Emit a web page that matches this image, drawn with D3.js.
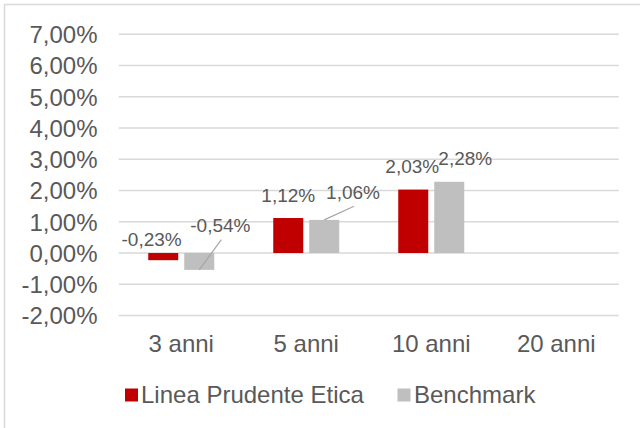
<!DOCTYPE html>
<html>
<head>
<meta charset="utf-8">
<script src="https://cdn.jsdelivr.net/npm/d3@7"></script>
<style>
  html, body { margin: 0; padding: 0; background: #fff; }
  svg { display: block; font-family: "Liberation Sans", Arial, sans-serif; }
</style>
</head>
<body>
<svg id="chart" width="640" height="428"></svg>
<script>
// ---- data ----
const categories = ["3 anni", "5 anni", "10 anni", "20 anni"];
const seriesNames = ["Linea Prudente Etica", "Benchmark"];
const lineaValues = [-0.23, 1.12, 2.03, null];
const benchmarkValues = [-0.54, 1.06, 2.28, null];
const yTicks = [-2, -1, 0, 1, 2, 3, 4, 5, 6, 7];

// ---- layout / style (not data) ----
const colors = ["#c00000", "#bfbfbf"];
const textColor = "#595959";
const gridColor = "#d9d9d9";
// label offsets [dx, dy] relative to (bar centre, value end), per series per category
const labelOffsets = [
  [[-11.6, -14.2], [0, -16.3], [-1, -16.3], [0, 0]],
  [[21.1, -37.6], [28.8, -20.9], [16, -16.8], [0, 0]]
];
const leaderLines = [
  [false, false, false, false],
  [true, true, false, false]
];

const fmt = v => d3.format(".2f")(v).replace("\u2212", "-").replace(".", ",") + "%";

const svg = d3.select("#chart");

// outer frame
svg.append("rect")
  .attr("x", 4.5).attr("y", 4.5)
  .attr("width", 660).attr("height", 440)
  .attr("fill", "none").attr("stroke", gridColor).attr("stroke-width", 1.5);

const x = d3.scaleBand().domain(categories).range([118.75, 618.75]);
const y = d3.scaleLinear().domain([-2, 7]).range([315.5, 34.3]);

// gridlines
svg.append("g").selectAll("line").data(yTicks).join("line")
  .attr("x1", x.range()[0]).attr("x2", x.range()[1])
  .attr("y1", d => y(d)).attr("y2", d => y(d))
  .attr("stroke", gridColor).attr("stroke-width", 1.5);

// y axis labels
const yAxis = d3.axisLeft(y).tickValues(yTicks).tickSize(0).tickPadding(0)
  .tickFormat(d => fmt(d));
const yg = svg.append("g").attr("transform", "translate(97.5,0)").call(yAxis);
yg.select(".domain").remove();
yg.selectAll("text")
  .attr("fill", textColor).attr("font-size", 24)
  .attr("font-family", '"Liberation Sans", Arial, sans-serif')
  .attr("dy", "0.35em");

// x axis labels
const xAxis = d3.axisBottom(x).tickSize(0).tickPadding(0);
const xg = svg.append("g").attr("transform", "translate(0,0)").call(xAxis);
xg.select(".domain").remove();
xg.selectAll("text")
  .attr("fill", textColor).attr("font-size", 24)
  .attr("font-family", '"Liberation Sans", Arial, sans-serif')
  .attr("y", 351.7).attr("dy", 0);

// bars
const series = [lineaValues, benchmarkValues];
const barW = 30, barGap = 6;
const barX = (si, cat) => x(cat) + x.bandwidth() / 2 + (si === 0 ? -(barW + barGap / 2) : barGap / 2);

series.forEach((vals, si) => {
  const data = categories.map((c, i) => ({ c, i, v: vals[i] })).filter(d => d.v !== null);
  svg.append("g").selectAll("rect").data(data).join("rect")
    .attr("x", d => barX(si, d.c))
    .attr("width", barW)
    .attr("y", d => y(Math.max(0, d.v)))
    .attr("height", d => Math.abs(y(d.v) - y(0)))
    .attr("fill", colors[si]);
});

// labels + leader lines
series.forEach((vals, si) => {
  const data = categories.map((c, i) => ({ c, i, v: vals[i] })).filter(d => d.v !== null);
  const g = svg.append("g");
  data.forEach(d => {
    const cx = barX(si, d.c) + barW / 2;
    const off = labelOffsets[si][d.i];
    const lx = cx + off[0], ly = y(d.v) + off[1];
    if (leaderLines[si][d.i]) {
      g.append("line")
        .attr("x1", lx + 1).attr("y1", ly + 7.3)
        .attr("x2", cx).attr("y2", y(d.v))
        .attr("stroke", "#a6a6a6").attr("stroke-width", 1.2);
    }
    g.append("text")
      .attr("x", lx).attr("y", ly)
      .attr("text-anchor", "middle")
      .attr("font-size", 19)
      .attr("fill", textColor)
      .text(fmt(d.v));
  });
});

// legend
const legendX = [125, 397.5];
const legendTextX = [141, 414];
const lg = svg.append("g");
seriesNames.forEach((name, i) => {
  lg.append("rect").attr("x", legendX[i]).attr("y", 388.5)
    .attr("width", 13).attr("height", 13).attr("fill", colors[i]);
  lg.append("text").attr("x", legendTextX[i]).attr("y", 402.7)
    .attr("font-size", 24).attr("fill", textColor).text(name);
});
</script>
</body>
</html>
